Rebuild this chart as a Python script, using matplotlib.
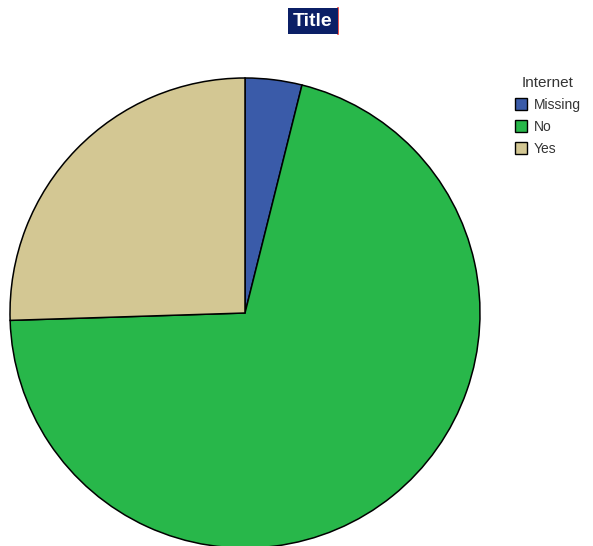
import matplotlib.pyplot as plt
from matplotlib.patches import Patch

labels = ["Missing", "No", "Yes"]
shares = [3.9, 70.6, 25.5]
colors = ["#3A5BA9", "#28B74A", "#D3C793"]

plt.rcParams['font.family'] = ['Liberation Sans', 'DejaVu Sans']

fig = plt.figure(figsize=(5.93, 5.46), dpi=100)
ax = fig.add_axes([0, 0, 1, 1])

# pie in pixel-like coordinates, clockwise from 12 o'clock
ax.pie(shares, colors=colors, startangle=90, counterclock=False,
       center=(245, 546 - 313), radius=235,
       wedgeprops=dict(edgecolor='black', linewidth=1.1))
ax.set_xlim(0, 593)
ax.set_ylim(0, 546)
ax.set_aspect('equal')
ax.axis('off')

fig.text(313 / 593, 1 - 21 / 546, "Title", ha='center', va='center',
         color='white', fontsize=14, fontweight='bold',
         bbox=dict(facecolor='#0B1F66', edgecolor='none', pad=3.5))
fig.add_artist(plt.Line2D([338 / 593, 338 / 593], [1 - 34 / 546, 1 - 8 / 546],
                          color='#E8342F', linewidth=1.2))

handles = [Patch(facecolor=c, edgecolor='black', linewidth=1) for c in colors]
leg = fig.legend(handles, labels, title="Internet", loc='upper left',
                 bbox_to_anchor=(505 / 593, 1 - 66 / 546), frameon=False,
                 fontsize=10, title_fontsize=11, handlelength=0.9,
                 handleheight=0.9, handletextpad=0.5, labelspacing=0.58,
                 borderpad=0.2)
for t in leg.get_texts():
    t.set_color('#333333')
leg.get_title().set_color('#333333')

fig.savefig("out.png", dpi=100)
